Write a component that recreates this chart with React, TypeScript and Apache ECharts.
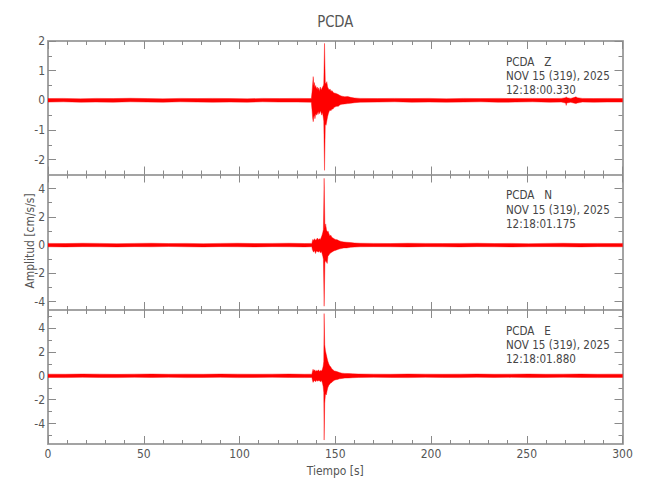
import React, { useEffect, useRef } from "react";
import * as echarts from "echarts";

// ---------- text content ----------
const stationName = "PCDA";
const componentNames = ["Z", "N", "E"];
const dateLabel = "NOV 15 (319), 2025";
const startTimes = ["12:18:00.330", "12:18:01.175", "12:18:01.880"];
const xAxisTitle = "Tiempo [s]";
const yAxisTitle = "Amplitud [cm/s/s]";

// ---------- axes ----------
const timeMin = 0;
const timeMax = 300;
const timeStep = 50;
const yRanges = [
  [-2.5, 2],
  [-4.6, 5],
  [-5.7, 5.5],
];
const yMajorTicks = [
  [-2, -1, 0, 1, 2],
  [-4, -2, 0, 2, 4],
  [-4, -2, 0, 2, 4],
];
const yMinorTicks = [
  [-1.5, -0.5, 0.5, 1.5],
  [-3, -1, 1, 3],
  [-5, -3, -1, 1, 3, 5],
];

// ---------- trace envelopes (time s, upper / lower amplitude cm/s/s) ----------
const zTime = [
  0, 8, 17, 25, 34, 43, 52, 60, 69, 78, 86, 95, 104, 112, 121, 130, 137.5,
  137.9, 138.2, 138.5, 138.8, 139.1, 139.4, 139.8, 140.2, 140.6, 141.0, 141.4, 141.8, 142.2, 142.6,
  143.0, 143.4, 143.8, 144.0, 144.4, 144.8, 145.2, 145.6, 146.0, 146.4, 146.8, 147.3, 147.8, 148.3,
  148.8, 149.3, 150.0, 150.8, 151.6, 152.5, 153.5, 155.0, 156.5, 158.0, 160.0,
  163, 172, 181, 190, 199, 208, 217, 226, 235, 244, 253, 262, 268, 270.3, 270.6, 270.9, 273,
  275.0, 275.7, 276.4, 279, 285, 292, 300,
];
const zHigh = [
  0.06, 0.065, 0.05, 0.065, 0.06, 0.07, 0.06, 0.05, 0.065, 0.06, 0.065, 0.06, 0.05, 0.065, 0.06, 0.065, 0.06,
  0.3, 0.55, 0.8, 0.5, 0.6, 0.42, 0.5, 0.38, 0.45, 0.35, 0.42, 0.3, 0.45, 0.35,
  0.4, 0.45, 0.5, 0.55, 1.92, 0.6, 0.55, 0.63, 0.45, 0.4, 0.35, 0.38, 0.3, 0.33,
  0.28, 0.25, 0.24, 0.22, 0.2, 0.16, 0.14, 0.12, 0.13, 0.1, 0.08,
  0.065, 0.06, 0.065, 0.06, 0.065, 0.05, 0.065, 0.06, 0.065, 0.06, 0.065, 0.06, 0.065, 0.09, 0.12, 0.09, 0.065,
  0.1, 0.12, 0.09, 0.065, 0.06, 0.065, 0.06,
];
const zLow = [
  -0.06, -0.05, -0.065, -0.06, -0.065, -0.05, -0.06, -0.065, -0.05, -0.06, -0.065, -0.06, -0.065, -0.05, -0.06, -0.06, -0.065,
  -0.35, -0.6, -0.72, -0.55, -0.5, -0.62, -0.45, -0.5, -0.4, -0.48, -0.38, -0.45, -0.35, -0.42,
  -0.5, -0.4, -0.6, -0.7, -2.36, -0.8, -0.84, -0.7, -0.55, -0.45, -0.38, -0.33, -0.35, -0.28,
  -0.3, -0.24, -0.22, -0.2, -0.2, -0.15, -0.13, -0.12, -0.11, -0.1, -0.08,
  -0.065, -0.06, -0.05, -0.065, -0.06, -0.065, -0.06, -0.05, -0.065, -0.06, -0.05, -0.065, -0.06, -0.09, -0.17, -0.09, -0.065,
  -0.1, -0.11, -0.09, -0.06, -0.065, -0.06, -0.06,
];

const nTime = [
  0, 9, 18, 27, 36, 45, 54, 63, 72, 81, 90, 99, 108, 117, 126, 134, 137.8,
  138.0, 138.3, 138.7, 139.2, 139.7, 140.2, 140.7, 141.2, 141.7, 142.2, 142.7, 143.1, 143.5, 143.8,
  144.2, 144.6, 145.0, 145.4, 145.8, 146.2, 146.7, 147.2, 147.7, 148.2, 148.8, 149.4, 150.0, 151.0,
  152.0, 153.0, 154.5, 156.0, 158.0, 160.0, 163.0,
  170, 179, 188, 197, 206, 215, 224, 233, 242, 251, 260, 269, 278, 287, 294, 300,
];
const nHigh = [
  0.12, 0.11, 0.13, 0.12, 0.1, 0.12, 0.13, 0.11, 0.12, 0.1, 0.12, 0.13, 0.11, 0.12, 0.13, 0.11, 0.12,
  0.25, 0.4, 0.33, 0.45, 0.35, 0.4, 0.5, 0.38, 0.45, 0.4, 0.55, 0.7, 0.9, 1.1,
  4.73, 1.2, 1.5, 1.1, 0.9, 1.0, 0.8, 0.65, 0.7, 0.55, 0.5, 0.45, 0.4, 0.38,
  0.3, 0.26, 0.22, 0.2, 0.18, 0.15, 0.13,
  0.12, 0.11, 0.13, 0.12, 0.11, 0.12, 0.13, 0.11, 0.12, 0.1, 0.12, 0.13, 0.11, 0.12, 0.11, 0.12,
];
const nLow = [
  -0.12, -0.13, -0.11, -0.12, -0.13, -0.11, -0.12, -0.1, -0.12, -0.13, -0.11, -0.12, -0.13, -0.11, -0.12, -0.13, -0.12,
  -0.3, -0.4, -0.5, -0.38, -0.6, -0.42, -0.45, -0.5, -0.4, -0.55, -0.45, -0.6, -0.8, -1.0,
  -4.33, -1.25, -1.1, -1.2, -1.3, -0.8, -0.7, -0.6, -0.55, -0.5, -0.45, -0.4, -0.38, -0.33,
  -0.28, -0.25, -0.2, -0.2, -0.16, -0.14, -0.12,
  -0.11, -0.12, -0.13, -0.11, -0.12, -0.13, -0.11, -0.12, -0.13, -0.12, -0.11, -0.12, -0.13, -0.11, -0.12, -0.12,
];

const eTime = [
  0, 9, 18, 27, 36, 45, 54, 63, 72, 81, 90, 99, 108, 117, 126, 134, 137.8,
  138.0, 138.4, 138.8, 139.3, 139.8, 140.3, 140.8, 141.3, 141.8, 142.3, 142.8, 143.3, 143.7, 144.0,
  144.2, 144.5, 144.9, 145.3, 145.7, 146.1, 146.6, 147.1, 147.6, 148.2, 148.8, 149.5, 150.3, 151.2,
  152.2, 153.5, 155.0, 157.0, 159.0, 162.0,
  170, 179, 188, 197, 206, 215, 224, 233, 242, 251, 260, 269, 278, 287, 294, 300,
];
const eHigh = [
  0.14, 0.13, 0.15, 0.14, 0.12, 0.14, 0.15, 0.13, 0.14, 0.13, 0.15, 0.14, 0.13, 0.14, 0.15, 0.13, 0.14,
  0.3, 0.55, 0.4, 0.5, 0.35, 0.45, 0.4, 0.5, 0.35, 0.45, 0.4, 0.55, 0.8, 1.2,
  5.2, 2.6, 2.07, 1.8, 1.5, 1.24, 1.0, 0.83, 0.75, 0.6, 0.5, 0.41, 0.38, 0.33,
  0.27, 0.22, 0.2, 0.19, 0.17, 0.15,
  0.14, 0.13, 0.15, 0.14, 0.13, 0.14, 0.15, 0.13, 0.14, 0.15, 0.13, 0.14, 0.15, 0.13, 0.14, 0.14,
];
const eLow = [
  -0.14, -0.15, -0.13, -0.14, -0.15, -0.13, -0.14, -0.13, -0.15, -0.14, -0.13, -0.15, -0.14, -0.13, -0.14, -0.15, -0.14,
  -0.3, -0.55, -0.45, -0.4, -0.5, -0.35, -0.45, -0.4, -0.42, -0.5, -0.4, -0.6, -0.9, -1.4,
  -5.37, -2.3, -1.5, -1.6, -1.3, -1.0, -0.8, -0.7, -0.6, -0.55, -0.45, -0.38, -0.33, -0.3,
  -0.25, -0.22, -0.19, -0.18, -0.16, -0.14,
  -0.13, -0.14, -0.15, -0.13, -0.14, -0.15, -0.13, -0.14, -0.13, -0.15, -0.14, -0.13, -0.14, -0.15, -0.14, -0.14,
];

const traces = [
  { time: zTime, high: zHigh, low: zLow },
  { time: nTime, high: nHigh, low: nLow },
  { time: eTime, high: eHigh, low: eLow },
];

// ---------- layout / style ----------
const FONT = "'DejaVu Sans Condensed', 'Liberation Sans', sans-serif";
const gridLeft = 48;
const gridWidth = 574.5;
const gridTops = [41, 174.5, 310];
const gridHeights = [133.5, 135.5, 134];
const axisColor = "#a3a3a3";
const tickColor = "#8a8a8a";
const textColor = "#555555";
const traceColor = "#ff0000";

export default function App() {
  const ref = useRef<HTMLDivElement>(null);

  useEffect(() => {
    if (!ref.current) return;
    const chart = echarts.init(ref.current, null, { renderer: "svg" });

    const grids = gridTops.map((top, g) => ({
      left: gridLeft,
      top,
      width: gridWidth,
      height: gridHeights[g],
      containLabel: false,
    }));

    const xAxes: any[] = [];
    const yAxes: any[] = [];
    const series: any[] = [];

    for (let g = 0; g < 3; g++) {
      for (const pos of ["bottom", "top"]) {
        xAxes.push({
          type: "value",
          gridIndex: g,
          position: pos,
          min: timeMin,
          max: timeMax,
          interval: timeStep,
          axisLine: { show: true, onZero: false, lineStyle: { color: axisColor, width: 2 } },
          axisTick: { show: true, inside: true, length: 8, lineStyle: { color: tickColor, width: 1 } },
          minorTick: { show: true, splitNumber: 5, length: 4, lineStyle: { color: tickColor, width: 1 } },
          splitLine: { show: false },
          minorSplitLine: { show: false },
          axisLabel: {
            show: g === 2 && pos === "bottom",
            color: textColor,
            fontSize: 12,
            fontFamily: FONT,
            margin: 4,
          },
        });
      }
      const [ymin, ymax] = yRanges[g];
      for (const pos of ["left", "right"]) {
        yAxes.push({
          type: "value",
          gridIndex: g,
          position: pos,
          min: ymin,
          max: ymax,
          axisLine: { show: true, onZero: false, lineStyle: { color: axisColor, width: 2 } },
          axisTick: {
            show: true,
            inside: true,
            length: 8,
            customValues: yMajorTicks[g],
            lineStyle: { color: tickColor, width: 1 },
          },
          splitLine: { show: false },
          axisLabel: {
            show: pos === "left",
            customValues: yMajorTicks[g],
            color: textColor,
            fontSize: 12,
            fontFamily: FONT,
            margin: 3,
          },
        });
        yAxes.push({
          type: "value",
          gridIndex: g,
          position: pos,
          min: ymin,
          max: ymax,
          axisLine: { show: false, onZero: false },
          axisTick: {
            show: true,
            inside: true,
            length: 4,
            customValues: yMinorTicks[g],
            lineStyle: { color: tickColor, width: 1 },
          },
          splitLine: { show: false },
          axisLabel: { show: false },
        });
      }

      const tr = traces[g];
      const rows = tr.time.map((t, i) => [t, tr.high[i], tr.low[i]]);
      series.push({
        type: "custom",
        xAxisIndex: g * 2,
        yAxisIndex: g * 4,
        silent: true,
        clip: true,
        encode: { x: 0, y: [1, 2] },
        data: rows,
        renderItem: (params: any, api: any) => {
          if (params.dataIndex !== 0) return null;
          const upper = rows.map((r) => api.coord([r[0], r[1]]));
          const lower = rows.map((r) => api.coord([r[0], r[2]])).reverse();
          return {
            type: "polygon",
            shape: { points: upper.concat(lower) },
            style: { fill: traceColor, stroke: traceColor, lineWidth: 0.4 },
          };
        },
      });
    }

    const graphics: any[] = [
      {
        type: "text",
        x: gridLeft + gridWidth / 2,
        y: 22,
        scaleX: 0.92,
        style: { text: stationName, font: `16px ${FONT}`, fill: textColor, align: "center", verticalAlign: "middle" },
      },
      {
        type: "text",
        x: gridLeft + gridWidth / 2,
        y: 470,
        scaleX: 0.92,
        style: { text: xAxisTitle, font: `13px ${FONT}`, fill: textColor, align: "center", verticalAlign: "middle" },
      },
      {
        type: "text",
        x: 29,
        y: 241,
        rotation: Math.PI / 2,
        scaleX: 0.92,
        style: { text: yAxisTitle, font: `13px ${FONT}`, fill: textColor, align: "center", verticalAlign: "middle" },
      },
    ];
    for (let g = 0; g < 3; g++) {
      const lines = [`${stationName}   ${componentNames[g]}`, dateLabel, startTimes[g]];
      lines.forEach((line, k) => {
        graphics.push({
          type: "text",
          x: 506,
          y: gridTops[g] + 20.7 + k * 14.2,
          scaleX: 0.89,
          style: { text: line, font: `13px ${FONT}`, fill: "#454545", align: "left", verticalAlign: "middle" },
        });
      });
    }

    chart.setOption({
      animation: false,
      backgroundColor: "#ffffff",
      grid: grids,
      xAxis: xAxes,
      yAxis: yAxes,
      series,
      graphic: graphics,
    });

    return () => chart.dispose();
  }, []);

  return (
    <div
      ref={ref}
      style={{ position: "absolute", left: 0, top: 0, width: 650, height: 500 }}
    />
  );
}
